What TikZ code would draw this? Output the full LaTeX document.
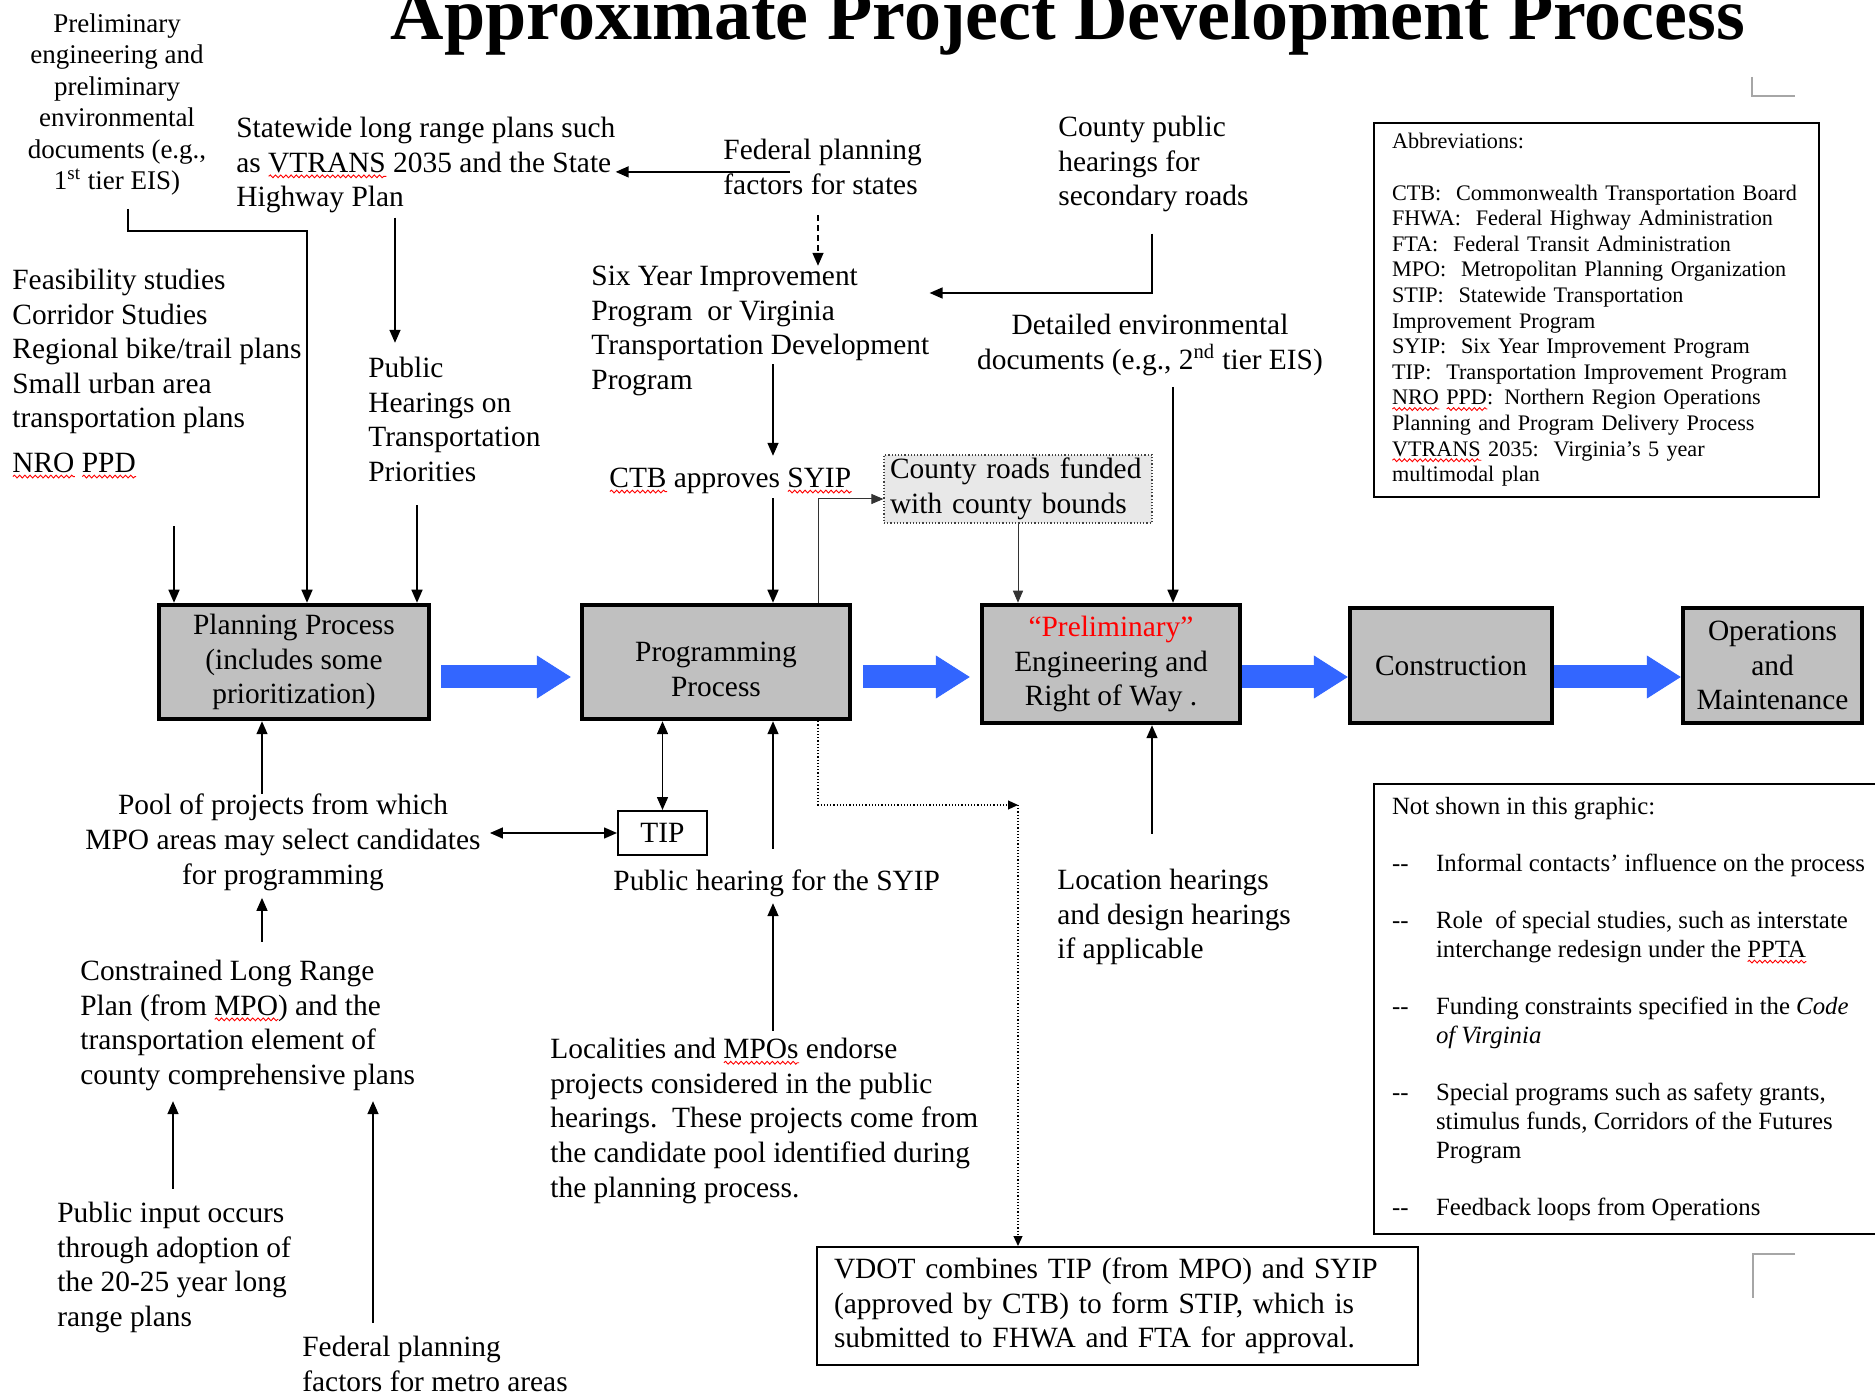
\documentclass[tikz,border=0pt]{standalone}
\usepackage{fontspec}
\setmainfont{Liberation Serif}
\usetikzlibrary{arrows.meta,calc,decorations.pathmorphing}
\definecolor{bblue}{RGB}{51,102,255}
\definecolor{boxgray}{RGB}{192,192,192}
\definecolor{lgray}{RGB}{232,232,232}
\newcommand\mfont{\fontsize{14.7}{17.3}\selectfont}
\newsavebox\sqbox
\newlength\sqw
\newcommand\sq[1]{\leavevmode\sbox\sqbox{#1}\setlength\sqw{\wd\sqbox}\rlap{\raisebox{-3pt}{\tikz\draw[red,line width=0.45pt,decorate,decoration={snake,amplitude=0.7pt,segment length=2.6pt}] (0pt,0pt)--(\sqw,0pt);}}\usebox\sqbox}
\tikzset{
  mf/.style={font=\mfont, yshift=9.6pt},
  tl/.style={inner sep=0pt, anchor=north west, align=left, execute at begin node=\strut},
  tc/.style={inner sep=0pt, anchor=north, align=center, execute at begin node=\strut},
  proc/.style={draw, line width=2.25pt, fill=boxgray, inner sep=0pt, align=center, font=\mfont},
  arr/.style={line width=0.75pt, -{Triangle[length=6.5pt,width=5.5pt]}},
  dblarr/.style={line width=0.75pt, {Triangle[length=6.5pt,width=5.5pt]}-{Triangle[length=6.5pt,width=5.5pt]}},
  thinarr/.style={line width=0.5pt, draw=black!80, -{Triangle[length=6pt,width=5pt]}},
  dotarr/.style={line width=0.6pt, densely dotted, -{Triangle[length=5pt,width=4.5pt]}},
  bigarr/.style={draw=bblue, line width=11.5pt, -{Triangle[length=17pt,width=21.5pt,line width=0.5pt]}},
  cornermark/.style={draw=black!35, line width=1pt}
}
\begin{document}
\begin{tikzpicture}[x=0.5pt,y=-0.5pt]
\useasboundingbox[fill=white] (0,0) rectangle (1875,1395);

% column helpers
\coordinate (c128) at (128,0);
\coordinate (c173) at (173,0);
\coordinate (c174) at (174,0);
\coordinate (c262) at (262,0);
\coordinate (c373) at (373,0);
\coordinate (c395) at (395,0);
\coordinate (c417) at (417,0);
\coordinate (c773) at (773,0);
\coordinate (c818) at (818,0);
\coordinate (c1018) at (1018,0);
\coordinate (c1152) at (1152,0);
\coordinate (c1173) at (1173,0);
\coordinate (k1) at (1152,293);
\coordinate (k3) at (818,499);
\coordinate (k4) at (307,231);
\coordinate (k7) at (818,805);
\coordinate (k8) at (1018,805);
\coordinate (ya) at (0,677);

% title
\node[inner sep=0pt, anchor=base, font=\fontsize{37}{40}\selectfont\bfseries] (title) at (1068,40) {Approximate Project Development Process};

% text nodes
\node[tc, font=\fontsize{13.5}{15.7}\selectfont, yshift=9.8pt] (prelimdoc) at (117,33) {Preliminary\\engineering and\\preliminary\\environmental\\documents (e.g.,\\1\textsuperscript{st} tier EIS)};
\node[tl,mf] (statewide) at (236,136) {Statewide long range plans such\\as \sq{VTRANS} 2035 and the State\\Highway Plan};
\node[tl,mf] (fedst) at (723,158) {Federal planning\\factors for states};
\node[tl,mf] (county) at (1058,135) {County public\\hearings for\\secondary roads};
\node[tl,mf] (sixyear) at (591,285) {Six Year Improvement\\Program\ \ or Virginia\\Transportation Development\\Program};
\node[tl,mf] (feas) at (12,288) {Feasibility studies\\Corridor Studies\\Regional bike/trail plans\\Small urban area\\transportation plans};
\node[tl,mf] (nro) at (12,467) {\sq{NRO} \sq{PPD}};
\node[tl,mf] (pubhear) at (368,376) {Public\\Hearings on\\Transportation\\Priorities};
\node[tl,mf] (ctb) at (609,482) {\sq{CTB} approves \sq{SYIP}};
\node[draw=black!75, densely dotted, line width=0.6pt, fill=lgray, inner xsep=3pt, inner ysep=0pt, text width=128pt, minimum width=134pt, minimum height=34pt, align=left, font=\mfont] (croads) at (1018,489) {County roads funded\\with county bounds};
\node[tc,mf] (detenv) at (1150,333) {Detailed environmental\\documents (e.g., 2\textsuperscript{nd} tier EIS)};

% abbreviations
\node[draw, line width=1pt, anchor=north west, inner xsep=9pt, inner ysep=5.25pt, text width=204.5pt, align=left, font=\fontsize{11.1}{12.8}\selectfont] (abbr) at (1373,122) {Abbreviations:\\[12.8pt]
CTB:\ \ Commonwealth Transportation Board\\
FHWA:\ \ Federal Highway Administration\\
FTA:\ \ Federal Transit Administration\\
MPO:\ \ Metropolitan Planning Organization\\
STIP:\ \ Statewide Transportation\\
Improvement Program\\
SYIP:\ \ Six Year Improvement Program\\
TIP:\ \ Transportation Improvement Program\\
\sq{NRO} \sq{PPD}: Northern Region Operations\\
Planning and Program Delivery Process\\
\sq{VTRANS} 2035:\ \ Virginia’s 5 year\\
multimodal plan};

% process boxes
\node[proc, minimum width=135pt, minimum height=57pt] (plan) at (294,662) {Planning Process\\(includes some\\prioritization)};
\node[proc, minimum width=134pt, minimum height=57pt] (prog) at (716,662) {\mbox{}\\Programming\\Process};
\node[proc, minimum width=129pt, minimum height=59pt] (prelim) at (1111,664) {\textcolor{red}{“Preliminary”}\\Engineering and\\Right of Way .};
\node[proc, minimum width=101pt, minimum height=57.5pt] (constr) at (1451,665.5) {Construction};
\node[proc, minimum width=89.5pt, minimum height=57.5pt] (ops) at (1772.5,665.5) {Operations\\and\\Maintenance};

% lower nodes
\node[draw, line width=1pt, minimum width=44.5pt, minimum height=22pt, inner sep=0pt, font=\mfont] (tip) at (662.5,833) {TIP};
\node[tl,mf] (pubsyip) at (613,885) {Public hearing for the SYIP};
\node[tl,mf] (loc) at (550,1057) {Localities and \sq{MPOs} endorse\\projects considered in the public\\hearings.\ \ These projects come from\\the candidate pool identified during\\the planning process.};
\node[tc,mf] (pool) at (283,813) {Pool of projects from which\\MPO areas may select candidates\\for programming};
\node[tl,mf] (constr2) at (80,979) {Constrained Long Range\\Plan (from \sq{MPO}) and the\\transportation element of\\county comprehensive plans};
\node[tl,mf] (pubin) at (57,1221) {Public input occurs\\through adoption of\\the 20-25 year long\\range plans};
\node[tl,mf] (fedm) at (302,1355) {Federal planning\\factors for metro areas};
\node[draw, line width=1pt, inner xsep=8.5pt, inner ysep=0pt, text width=283.5pt, minimum height=59pt, align=left, font=\mfont] (vdot) at (1117.5,1306) {VDOT combines TIP (from MPO) and SYIP\\(approved by CTB) to form STIP, which is\\submitted to FHWA and FTA for approval.};
\node[tl,mf] (locat) at (1057,888) {Location hearings\\and design hearings\\if applicable};

% not shown box
\node[draw, line width=1pt, anchor=north west, inner xsep=9pt, inner ysep=0pt, minimum width=253.5pt, minimum height=225pt, align=left, font=\fontsize{12.4}{14.5}\selectfont] (notsh) at (1373,783) {Not shown in this graphic:\\[14pt]
\makebox[22pt][l]{-{}-}Informal contacts’ influence on the process\\[14pt]
\makebox[22pt][l]{-{}-}Role\ \ of special studies, such as interstate\\
\hspace*{22pt}interchange redesign under the \sq{PPTA}\\[14pt]
\makebox[22pt][l]{-{}-}Funding constraints specified in the \textit{Code}\\
\hspace*{22pt}\textit{of Virginia}\\[14pt]
\makebox[22pt][l]{-{}-}Special programs such as safety grants,\\
\hspace*{22pt}stimulus funds, Corridors of the Futures\\
\hspace*{22pt}Program\\[14pt]
\makebox[22pt][l]{-{}-}Feedback loops from Operations};

% connectors (top)
\draw[arr, shorten <=4.8pt] (prelimdoc.south -| c128) -- (c128 |- k4) -- (k4) -- (plan.north -| k4);
\draw[arr, shorten >=7pt] (statewide.south -| c395) -- (pubhear.north -| c395);
\draw[arr] ([xshift=33.5pt]fedst.west) -- (fedst.west -| statewide.east);
\draw[arr, dash pattern=on 3pt off 2pt, shorten <=5pt] (fedst.south -| c818) -- (sixyear.north -| c818);
\draw[arr, shorten <=8.5pt] (county.south -| k1) -- (k1) -- (k1 -| sixyear.east);
\draw[arr, shorten <=-18pt, shorten >=3.5pt] (sixyear.south -| c773) -- (ctb.north -| c773);
\draw[arr] (ctb.south -| c773) -- (prog.north -| c773);
\draw[thinarr] (prog.north -| k3) -- (k3) -- (croads.west |- k3);
\draw[thinarr] (croads.south -| c1018) -- (prelim.north -| c1018);
\draw[arr, shorten <=3.5pt] (detenv.south -| c1173) -- (prelim.north -| c1173);
\draw[arr, shorten <=21.5pt] (nro.south -| c174) -- (plan.north -| c174);
\draw[arr, shorten <=6.5pt] (pubhear.south -| c417) -- (plan.north -| c417);

% connectors (bottom)
\draw[arr] (pool.north -| c262) -- (plan.south -| c262);
\draw[dblarr, shorten <=4.5pt] (tip.west -| pool.east) -- (tip.west);
\draw[dblarr] (prog.south -| tip.north) -- (tip.north);
\draw[arr, shorten <=8.5pt] (pubsyip.north -| c773) -- (prog.south -| c773);
\draw[arr, shorten <=3.5pt, shorten >=1pt] (loc.north -| c773) -- (pubsyip.south -| c773);
\draw[arr, shorten <=9pt, shorten >=1.5pt] (constr2.north -| c262) -- (pool.south -| c262);
\draw[arr, shorten <=6.5pt, shorten >=3pt] (pubin.north -| c173) -- (constr2.south -| c173);
\draw[arr, shorten <=6.5pt, shorten >=3pt] (fedm.north -| c373) -- (constr2.south -| c373);
\draw[arr, shorten <=17.5pt] (locat.north -| c1152) -- (prelim.south -| c1152);
\draw[dotarr] (prog.south -| k7) -- (k7) -- (k8);
\draw[dotarr] (k8) -- (vdot.north -| k8);

% big blue arrows
\draw[bigarr] ($(plan.east |- ya)+(10,0)$) -- ($(prog.west |- ya)+(-9,0)$);
\draw[bigarr] ($(prog.east |- ya)+(11,0)$) -- ($(prelim.west |- ya)+(-10,0)$);
\draw[bigarr] (prelim.east |- ya) -- (constr.west |- ya);
\draw[bigarr] (constr.east |- ya) -- (ops.west |- ya);

% corner marks
\draw[cornermark] (1752,77) -- (1752,96) -- (1795,96);
\draw[cornermark] (1795,1254) -- (1753,1254) -- (1753,1298);
\end{tikzpicture}
\end{document}
